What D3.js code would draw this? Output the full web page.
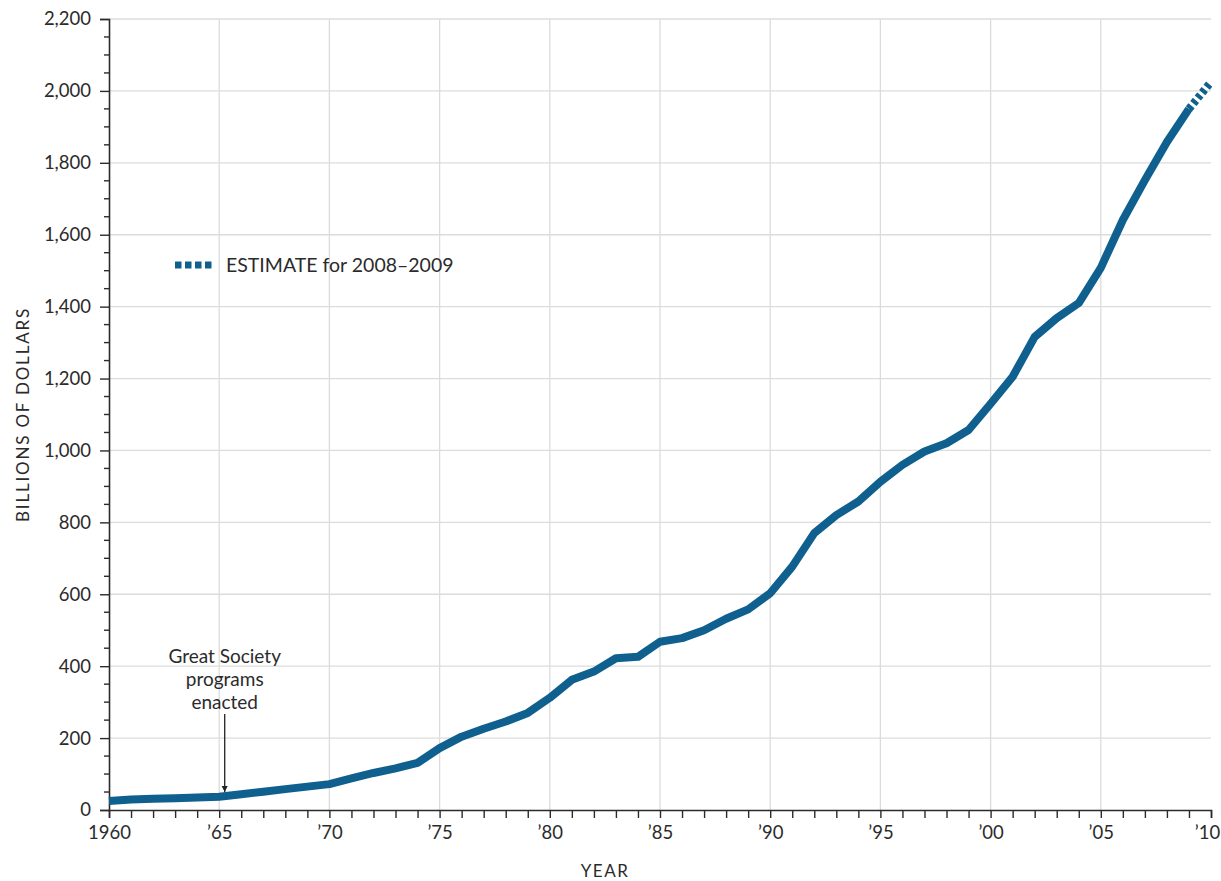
<!DOCTYPE html>
<html>
<head>
<meta charset="utf-8">
<script src="https://cdn.jsdelivr.net/npm/d3@7"></script>
<style>
  html, body { margin: 0; padding: 0; background: #fff; }
  svg text { font-family: Lato, "Open Sans", sans-serif; fill: #2b2b2b; }
</style>
</head>
<body>
<svg id="chart" width="1221" height="881"></svg>
<script>
// Annual spending, billions of dollars
const years = [1960, 1961, 1962, 1963, 1964, 1965, 1966, 1967, 1968, 1969,
               1970, 1971, 1972, 1973, 1974, 1975, 1976, 1977, 1978, 1979,
               1980, 1981, 1982, 1983, 1984, 1985, 1986, 1987, 1988, 1989,
               1990, 1991, 1992, 1993, 1994, 1995, 1996, 1997, 1998, 1999,
               2000, 2001, 2002, 2003, 2004, 2005, 2006, 2007, 2008, 2009];
const spending = [25, 29, 31, 33, 35, 37, 44, 51, 58, 65,
                  72, 88, 103, 116, 131, 172, 204, 226, 246, 270,
                  312, 362, 385, 422, 426, 468, 478, 500, 532, 558,
                  603, 677, 770, 820, 858, 913, 960, 997, 1020, 1057,
                  1130, 1205, 1316, 1368, 1410, 1508, 1641, 1752, 1858, 1950];
// Projected segment
const estimateYears = [2009, 2010];
const estimateValues = [1950, 2025];

const yTicks = [0, 200, 400, 600, 800, 1000, 1200, 1400, 1600, 1800, 2000, 2200];
const xTickYears = [1960, 1965, 1970, 1975, 1980, 1985, 1990, 1995, 2000, 2005, 2010];
const xTickLabels = ["1960", "\u201965", "\u201970", "\u201975", "\u201980", "\u201985",
                     "\u201990", "\u201995", "\u201900", "\u201905", "\u201910"];
const annotationYear = 1965.25;
const annotationLines = ["Great Society", "programs", "enacted"];
const legendText = "ESTIMATE for 2008\u20132009";

const lineColor = "#0f608e";
const gridColor = "#dcdcdc";
const axisColor = "#2b2b2b";

const margin = { left: 109, right: 10, top: 19, bottom: 71 };
const W = 1221, H = 881;
const svg = d3.select("#chart");

const x = d3.scaleLinear().domain([1960, 2010]).range([margin.left, W - margin.right]);
const y = d3.scaleLinear().domain([0, 2200]).range([H - margin.bottom, margin.top]);

// Grid
const grid = svg.append("g");
grid.selectAll("line.h").data(yTicks.filter(d => d > 0)).join("line")
  .attr("x1", x(1960)).attr("x2", x(2010))
  .attr("y1", d => y(d)).attr("y2", d => y(d))
  .attr("stroke", gridColor).attr("stroke-width", 1.3);
grid.selectAll("line.v").data(xTickYears.filter(d => d > 1960 && d < 2010)).join("line")
  .attr("x1", d => x(d)).attr("x2", d => x(d))
  .attr("y1", y(0)).attr("y2", y(2200))
  .attr("stroke", gridColor).attr("stroke-width", 1.3);

// Y axis: major ticks every 200, minor every 50
const yAxis = d3.axisLeft(y).tickValues(yTicks).tickSize(9).tickPadding(9)
  .tickFormat(d3.format(","));
const gy = svg.append("g").attr("transform", `translate(${margin.left},0)`).call(yAxis);
gy.select(".domain").attr("stroke", axisColor).attr("stroke-width", 1.6);
gy.selectAll(".tick line").attr("stroke", axisColor).attr("stroke-width", 1.4);
gy.selectAll(".tick text").attr("font-size", 18.5).style("fill", "#2b2b2b")
  .attr("font-family", "Lato, sans-serif");
const minorY = d3.range(0, 2201, 50).filter(d => d % 200 !== 0);
svg.append("g").selectAll("line").data(minorY).join("line")
  .attr("x1", margin.left - 5).attr("x2", margin.left)
  .attr("y1", d => y(d)).attr("y2", d => y(d))
  .attr("stroke", axisColor).attr("stroke-width", 1.4);

// X axis: tick every year, labels every five
const allYears = d3.range(1960, 2011);
const xAxis = d3.axisBottom(x).tickValues(allYears).tickSize(8).tickPadding(8)
  .tickFormat(d => {
    const i = xTickYears.indexOf(d);
    return i >= 0 ? xTickLabels[i] : "";
  });
const gx = svg.append("g").attr("transform", `translate(0,${y(0)})`).call(xAxis);
gx.select(".domain").attr("stroke", axisColor).attr("stroke-width", 1.6);
gx.selectAll(".tick line").attr("stroke", axisColor).attr("stroke-width", 1.4);
gx.selectAll(".tick text").attr("font-size", 18.5).style("fill", "#2b2b2b")
  .attr("font-family", "Lato, sans-serif");
gx.selectAll(".tick").filter(d => d === 2010).select("text").attr("dx", -4);

// Axis titles
svg.append("text").attr("x", 605).attr("y", 877)
  .attr("text-anchor", "middle").attr("font-size", 17).attr("letter-spacing", 1.5)
  .text("YEAR");
svg.append("text")
  .attr("transform", `translate(29,${(y(0) + y(2200)) / 2}) rotate(-90)`)
  .attr("text-anchor", "middle").attr("font-size", 17).attr("letter-spacing", 1.8)
  .text("BILLIONS OF DOLLARS");

// Data line
const line = d3.line().x(d => x(d[0])).y(d => y(d[1]));
svg.append("path").datum(years.map((yr, i) => [yr, spending[i]]))
  .attr("d", line).attr("fill", "none").attr("stroke", lineColor)
  .attr("stroke-width", 8).attr("stroke-linejoin", "round");
svg.append("path").datum(estimateYears.map((yr, i) => [yr, estimateValues[i]]))
  .attr("d", line).attr("fill", "none").attr("stroke", lineColor)
  .attr("stroke-width", 8).attr("stroke-dasharray", "4,3");

// Legend
svg.append("line").attr("x1", 175).attr("x2", 214).attr("y1", 265).attr("y2", 265)
  .attr("stroke", lineColor).attr("stroke-width", 7).attr("stroke-dasharray", "6.5,3.5");
svg.append("text").attr("x", 226).attr("y", 272).attr("font-size", 19.5).text(legendText);

// Annotation
const ax = x(annotationYear);
const ann = svg.append("text").attr("text-anchor", "middle").attr("font-size", 19);
annotationLines.forEach((t, i) => {
  ann.append("tspan").attr("x", ax).attr("y", 663 + i * 23).text(t);
});
svg.append("defs").append("marker").attr("id", "arrow")
  .attr("viewBox", "0 0 10 10").attr("refX", 10).attr("refY", 5)
  .attr("markerWidth", 6).attr("markerHeight", 8).attr("orient", "auto")
  .attr("markerUnits", "userSpaceOnUse")
  .append("path").attr("d", "M0,0 L10,5 L0,10 Z").attr("fill", "#222");
svg.append("line").attr("x1", ax).attr("x2", ax).attr("y1", 714).attr("y2", 792)
  .attr("stroke", "#222").attr("stroke-width", 1.3).attr("marker-end", "url(#arrow)");
</script>
</body>
</html>
